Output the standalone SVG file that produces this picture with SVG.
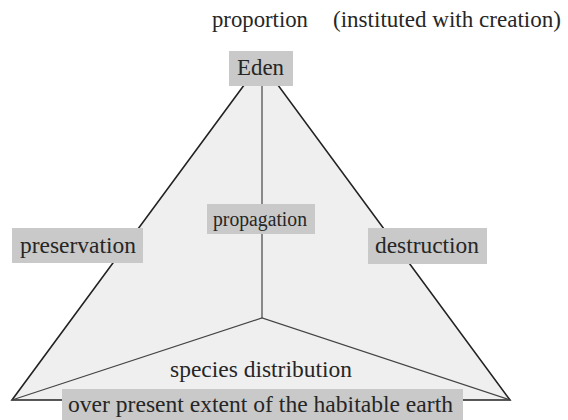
<svg xmlns="http://www.w3.org/2000/svg" width="568" height="420" viewBox="0 0 568 420">
<style>
text{font-family:'Liberation Serif','Times New Roman',Times,serif;font-size:24px;fill:#262626}
.s{font-size:20.5px}
.box{fill:#c9c9c9}
.inner{stroke:#444;stroke-width:1.2;fill:none}
</style>
<rect width="568" height="420" fill="#fff"/>
<g id="connectors">
<polygon points="261,62 12,400 510,400" fill="#efefef" stroke="#222" stroke-width="1.6"/>
<line class="inner" x1="262" y1="86" x2="262" y2="318"/>
<polyline class="inner" points="12,400 262,318 510,400"/>
</g>
<g id="title">
<text x="212" y="27" textLength="96" lengthAdjust="spacingAndGlyphs">proportion</text>
<text x="333" y="27" textLength="228" lengthAdjust="spacingAndGlyphs">(instituted with creation)</text>
</g>
<g id="eden">
<rect class="box" x="229" y="51" width="64" height="35"/>
<text x="237" y="75" textLength="47" lengthAdjust="spacingAndGlyphs">Eden</text>
</g>
<g id="preservation">
<rect class="box" x="12" y="228" width="131" height="35"/>
<text x="20" y="253" textLength="116" lengthAdjust="spacingAndGlyphs">preservation</text>
</g>
<g id="propagation">
<rect class="box" x="207" y="204" width="108" height="30"/>
<text class="s" x="213" y="226" textLength="94" lengthAdjust="spacingAndGlyphs">propagation</text>
</g>
<g id="destruction">
<rect class="box" x="368" y="228" width="119" height="36"/>
<text x="375" y="253" textLength="104" lengthAdjust="spacingAndGlyphs">destruction</text>
</g>
<g id="species">
<text x="170" y="377" textLength="182" lengthAdjust="spacingAndGlyphs">species distribution</text>
</g>
<g id="extent">
<rect class="box" x="62" y="389" width="401" height="31"/>
<text x="68" y="412" textLength="385" lengthAdjust="spacingAndGlyphs">over present extent of the habitable earth</text>
</g>
</svg>
